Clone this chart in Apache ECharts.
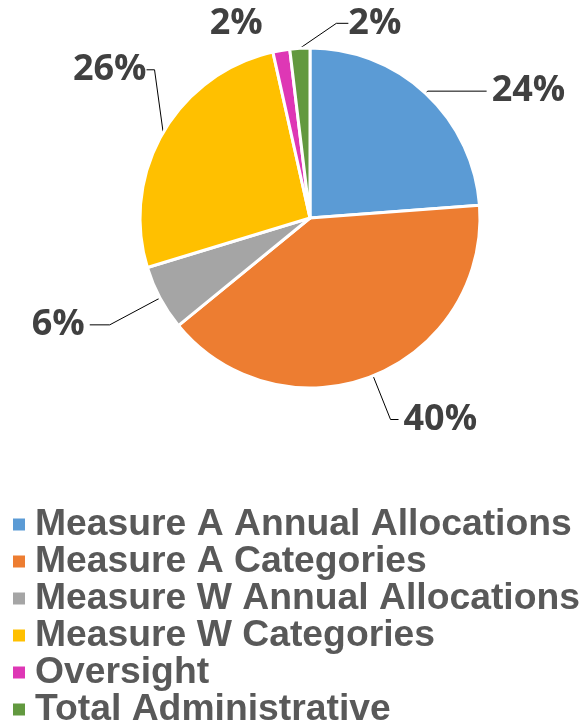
<!DOCTYPE html>
<html>
<head>
<meta charset="utf-8">
<script src="https://cdn.jsdelivr.net/npm/echarts@6/dist/echarts.min.js"></script>
<style>
  html, body { margin: 0; padding: 0; background: #fff; }
  #main { width: 587px; height: 724px; }
</style>
</head>
<body>
<div id="main"></div>
<script>
// share of funding
var categories = [
  'Measure A Annual Allocations',
  'Measure A Categories',
  'Measure W Annual Allocations',
  'Measure W Categories',
  'Oversight',
  'Total Administrative'
]
var shares = [23.8, 40.3, 6.2, 26.2, 1.6, 1.9]
var colors = ['#5B9BD5', '#ED7D31', '#A5A5A5', '#FFC000', '#DE37B5', '#62993F']

// label line lengths per slice [length, length2]
var lineLen = [[3, 59], [47, 8], [57, 20], [25, 8], [27, 9], [8, 12]]
// extra nudges for labels that excel puts somewhere pie layout can't
var labelShift = { 3: [18, -50], 5: [119, -17] }

var myChart = echarts.init(document.getElementById('main'))

var pieData = categories.map(function (name, i) {
  var item = {
    name: name,
    value: shares[i],
    itemStyle: { color: colors[i] },
    labelLine: { length: lineLen[i][0], length2: lineLen[i][1] }
  }
  if (i === 4) item.labelLine.show = false
  return item
})

myChart.setOption({
  animation: false,
  legend: {
    orient: 'vertical',
    left: 11,
    top: 506,
    height: 240,
    padding: 0,
    icon: 'rect',
    itemWidth: 14,
    itemHeight: 14,
    itemGap: 0,
    selectedMode: false,
    textStyle: {
      fontFamily: 'Liberation Sans',
      fontWeight: 'bold',
      fontSize: 37.3,
      lineHeight: 36.6,
      color: '#595959',
      padding: [0, 0, 0, 4]
    },
    data: categories
  },
  series: [
    {
      type: 'pie',
      center: [310, 218],
      radius: 170,
      startAngle: 90,
      clockwise: true,
      avoidLabelOverlap: false,
      itemStyle: { borderColor: '#fff', borderWidth: 3 },
      label: {
        show: true,
        position: 'outside',
        fontFamily: 'Open Sans',
        fontWeight: 'bold',
        fontSize: 36,
        color: '#404040',
        formatter: function (p) {
          return Math.round(p.percent) + '%'
        }
      },
      labelLine: {
        lineStyle: { color: '#000', width: 1 }
      },
      labelLayout: function (params) {
        var s = labelShift[params.dataIndex]
        if (!s) return {}
        var r = params.labelRect
        // move relative to where the pie put it, line gets redrawn
        return {
          x: r.x + s[0],
          y: r.y + r.height / 2 + s[1],
          align: 'left',
          verticalAlign: 'middle'
        }
      },
      emphasis: { disabled: true },
      data: pieData
    }
  ]
})
</script>
</body>
</html>
